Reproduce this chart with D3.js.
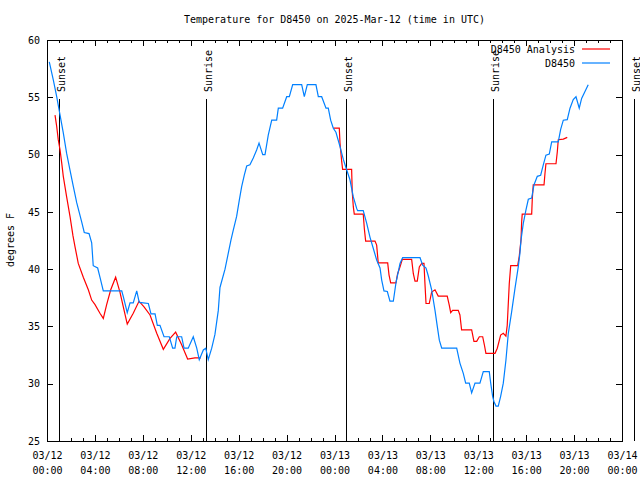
<!DOCTYPE html>
<html><head><meta charset="utf-8">
<script src="https://cdn.jsdelivr.net/npm/d3@7"></script>
<style>
body{margin:0;background:#fff;}
svg{display:block;}
text{font-family:"DejaVu Sans Mono","Liberation Mono",monospace;font-size:10px;fill:#000;}
</style></head>
<body><svg id="c" width="640" height="480"></svg>
<script>
// ---- data (hours after 2025-03-12 00:00 UTC, temperature in deg F) ----
const obsHours = [0.19,0.53,0.81,1.09,1.36,1.64,1.92,2.20,2.48,2.90,3.11,3.51,3.73,3.86,4.23,4.42,4.70,6.24,6.37,6.70,6.93,7.20,7.49,7.70,8.46,8.68,9.02,9.21,9.43,9.77,10.21,10.49,10.68,10.83,11.24,11.44,11.79,12.21,12.50,12.71,13.05,13.25,13.46,13.75,14.02,14.30,14.44,14.86,15.36,15.55,15.83,16.05,16.25,16.47,16.67,16.94,17.22,17.50,17.70,18.01,18.20,18.47,18.76,19.17,19.31,19.67,20.01,20.23,20.51,21.26,21.48,21.73,22.45,22.65,22.93,23.29,23.48,23.68,23.90,24.12,24.46,24.73,25.02,25.29,25.57,25.85,25.93,26.40,26.69,26.96,27.24,27.52,27.80,27.94,28.13,28.41,28.63,28.91,29.13,29.47,29.69,31.14,31.36,31.64,31.83,32.11,32.39,32.58,32.75,32.95,34.20,34.47,34.75,34.95,35.25,35.45,35.73,36.14,36.42,36.92,37.04,37.20,37.31,37.48,37.67,37.87,38.09,38.31,38.51,38.79,39.07,39.34,39.48,39.57,39.76,39.98,40.18,40.46,40.65,40.93,41.21,41.43,41.65,41.93,42.13,42.68,42.88,43.10,43.43,43.66,43.93,44.16,44.43,44.63,44.91,45.18];
const obsTemps = [58.1,56.5,55.05,53.45,51.9,50.1,48.65,47.2,45.8,44.1,43.2,43.1,42.3,40.3,40.1,39.3,38.1,38.1,37.6,36.2,37.05,37.05,38.1,37.1,37.0,36.1,36.1,35.1,35.1,34.1,34.1,33.1,33.1,34.1,34.1,33.1,33.1,34.1,33.1,32.1,32.95,33.1,32.1,33.1,34.3,36.4,38.4,40.0,42.55,43.4,44.6,46.0,47.2,48.2,49.0,49.1,49.7,50.4,51.0,50.0,50.0,51.7,53.0,53.0,54.05,54.05,55.05,55.05,56.1,56.1,55.05,56.1,56.1,55.05,55.05,54.05,54.05,53.0,52.3,51.95,50.7,49.6,48.65,47.8,46.3,45.3,45.1,45.1,44.0,42.8,41.8,40.8,40.1,39.05,38.1,38.05,37.2,37.2,38.8,40.5,41.0,41.0,40.35,40.1,39.4,38.2,36.4,35.0,33.8,33.1,33.1,31.8,30.9,30.05,30.05,29.2,30.05,30.05,31.05,31.05,30.05,28.9,28.45,28.05,28.05,28.9,30.05,32.05,34.4,36.3,38.35,40.2,41.4,42.55,44.0,45.15,46.1,46.2,47.35,48.1,48.2,49.1,49.95,50.05,51.1,51.1,52.2,53.0,53.05,54.05,54.8,55.05,54.05,54.9,55.5,56.1];

const anaHours = [0.67,0.81,0.94,1.09,1.23,1.36,1.64,1.92,2.17,2.34,2.61,3.03,3.45,3.73,4.01,4.42,4.70,4.98,5.32,5.73,6.09,6.37,6.70,7.20,7.68,8.10,8.60,9.16,9.71,10.27,10.74,11.24,11.74,12.35,12.83,
  18.0,
  23.90,24.40,24.46,24.60,24.68,25.43,25.48,25.57,25.65,26.40,26.49,26.60,27.38,27.52,27.65,28.44,28.55,28.69,29.13,29.27,29.47,29.66,30.44,30.58,30.72,30.91,31.08,31.28,31.47,31.55,31.64,31.91,32.11,32.39,32.66,33.41,33.58,33.70,33.86,34.33,34.47,34.61,35.45,35.64,35.87,36.09,36.37,36.51,36.64,37.40,37.59,37.87,38.09,38.31,38.42,38.59,38.71,39.29,39.42,39.57,39.62,39.67,40.46,40.51,40.59,41.49,41.57,41.65,42.49,42.60,42.68,43.10,43.43];
const anaTemps = [53.45,52.45,51.3,50.4,49.25,48.1,46.3,44.6,42.9,41.95,40.5,39.3,38.2,37.3,36.9,36.15,35.7,36.9,38.2,39.3,38.0,36.7,35.2,36.15,37.2,36.7,36.0,34.4,33.0,33.95,34.5,33.4,32.15,32.25,32.25,
  null,
  52.3,52.3,51.0,49.4,48.7,48.7,46.75,45.45,44.8,44.8,43.55,42.45,42.45,42.1,40.55,40.55,39.5,38.8,38.8,39.6,40.2,40.85,40.85,39.6,38.95,38.95,40.2,40.5,40.5,38.75,37.0,37.0,38.0,38.2,37.65,37.65,36.85,36.2,36.4,36.4,36.0,34.7,34.7,33.7,33.7,34.1,34.1,33.4,32.65,32.65,33.1,34.25,34.4,34.15,35.1,38.75,40.3,40.3,41.1,42.55,44.05,44.8,44.8,46.1,47.35,47.35,48.35,49.2,49.2,50.25,51.3,51.35,51.5];

const sunLabels = ["Sunset","Sunrise","Sunset","Sunrise","Sunset"];
const sunTimes = ["2025-03-12T01:02Z","2025-03-12T13:16Z","2025-03-13T00:58Z","2025-03-13T13:14Z","2025-03-14T01:01Z"];
const yTicks = [25,30,35,40,45,50,55,60];
const seriesNames = ["D8450 Analysis","D8450"];
const seriesColors = ["#ff0000","#0080ff"];
const titleText = "Temperature for D8450 on 2025-Mar-12 (time in UTC)";
const yLabel = "degrees F";

// ---- layout ----
const L=47, R=622, T=40, B=441;
const t0 = new Date(Date.UTC(2025,2,12,0,0));
const t1 = new Date(Date.UTC(2025,2,14,0,0));
const toDate = h => new Date(t0.getTime() + h*3600e3);

const svg = d3.select("#c");
const x = d3.scaleUtc().domain([t0,t1]).range([L,R]);
const y = d3.scaleLinear().domain([25,60]).range([B,T]);

const major = d3.utcHour.every(4).range(t0, d3.utcHour.offset(t1,1));
const minor = d3.utcHour.every(1).range(t0, d3.utcHour.offset(t1,1));
const fmtD = d3.utcFormat("%m/%d"), fmtT = d3.utcFormat("%H:%M");

function clean(g){ g.select(".domain").remove(); g.selectAll("line").attr("stroke","#000").attr("shape-rendering","crispEdges"); }

// minor x ticks bottom/top
svg.append("g").attr("transform",`translate(0,${B})`)
  .call(d3.axisBottom(x).tickValues(minor).tickSize(-3).tickFormat(""))
  .call(clean);
svg.append("g").attr("transform",`translate(0,${T})`)
  .call(d3.axisTop(x).tickValues(minor).tickSize(-3).tickFormat(""))
  .call(clean);
// major x ticks
const xb = svg.append("g").attr("transform",`translate(0,${B})`)
  .call(d3.axisBottom(x).tickValues(major).tickSize(-6).tickPadding(10).tickFormat(""))
  .call(clean);
xb.selectAll(".tick text").each(function(d){
  const t = d3.select(this).attr("y",null).attr("dy",null);
  t.append("tspan").attr("x",0).attr("y",18).text(fmtD(d));
  t.append("tspan").attr("x",0).attr("y",33).text(fmtT(d));
});
xb.selectAll("text").attr("font-family",null).attr("font-size",null);
svg.append("g").attr("transform",`translate(0,${T})`)
  .call(d3.axisTop(x).tickValues(major).tickSize(-6).tickFormat(""))
  .call(clean);

// y axes
const yl = svg.append("g").attr("transform",`translate(${L},0)`)
  .call(d3.axisLeft(y).tickValues(yTicks).tickSize(-6).tickPadding(7).tickFormat(d3.format("d")))
  .call(clean);
yl.selectAll("text").attr("font-family",null).attr("font-size",null);
svg.append("g").attr("transform",`translate(${R},0)`)
  .call(d3.axisRight(y).tickValues(yTicks).tickSize(-6).tickFormat(""))
  .call(clean);

// border
svg.append("rect").attr("x",L).attr("y",T).attr("width",R-L).attr("height",B-T)
  .attr("fill","none").attr("stroke","#000").attr("shape-rendering","crispEdges");

// title & y label
svg.append("text").attr("x",(L+R)/2).attr("y",23).attr("text-anchor","middle").text(titleText);
svg.append("text").attr("transform",`translate(14,240) rotate(-90)`).attr("text-anchor","middle").text(yLabel);

// sun events
sunTimes.forEach((s,i)=>{
  const px = Math.round(x(new Date(s)))+0.5;
  svg.append("line").attr("x1",px).attr("x2",px).attr("y1",99).attr("y2",B)
    .attr("stroke","#000").attr("stroke-width",1).attr("shape-rendering","crispEdges");
  svg.append("text").attr("transform",`translate(${px+5},92) rotate(-90)`)
    .attr("text-anchor","start").text(sunLabels[i]);
});

// data lines
const line = d3.line().defined(d=>d[1]!=null).x(d=>x(toDate(d[0]))).y(d=>y(d[1]));
const ana = anaHours.map((h,i)=>[h,anaTemps[i]]);
const obs = obsHours.map((h,i)=>[h,obsTemps[i]]);
svg.append("path").datum(ana).attr("d",line).attr("fill","none").attr("stroke",seriesColors[0]).attr("stroke-width",1.2);
svg.append("path").datum(obs).attr("d",line).attr("fill","none").attr("stroke",seriesColors[1]).attr("stroke-width",1.2);

// legend
seriesNames.forEach((n,i)=>{
  const ly = 49 + i*14;
  svg.append("text").attr("x",575).attr("y",ly+4).attr("text-anchor","end").text(n);
  svg.append("line").attr("x1",582).attr("x2",610).attr("y1",ly).attr("y2",ly)
    .attr("stroke",seriesColors[i]).attr("stroke-width",1.2);
});
</script></body></html>
